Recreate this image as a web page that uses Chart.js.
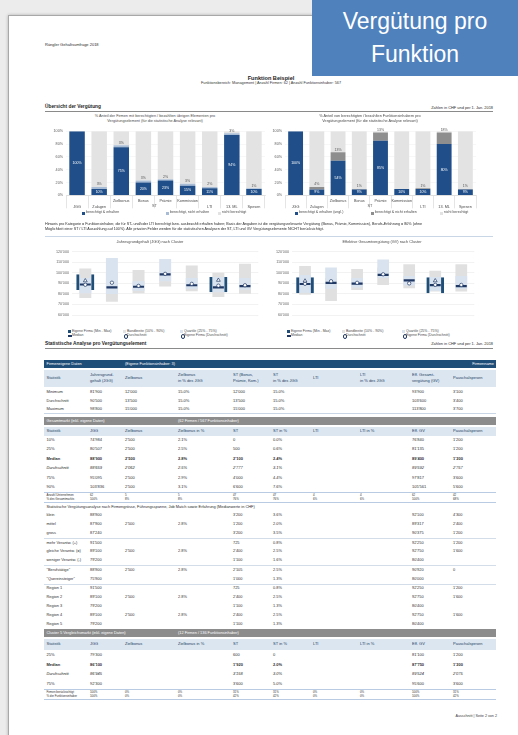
<!DOCTYPE html>
<html><head><meta charset="utf-8">
<script src="https://cdn.jsdelivr.net/npm/chart.js@4.4.1/dist/chart.umd.min.js"></script>
<style>
html,body{margin:0;padding:0;}
body{width:518px;height:735px;background:#ececec;position:relative;overflow:hidden;font-family:"Liberation Sans",Arial,sans-serif;}
#page{position:absolute;left:8px;top:15px;width:540px;height:760px;background:#fff;border:1px solid #a8a8a8;box-shadow:0 0 3px rgba(0,0,0,0.25);}
.t{position:absolute;white-space:nowrap;color:#333;line-height:1;}
.r{position:absolute;}
canvas{position:absolute;}
#banner{position:absolute;left:312px;top:0;width:206px;height:76px;background:#4f81bd;color:#fff;font-size:23px;text-align:center;line-height:33px;padding-top:5px;box-sizing:border-box;}
</style></head><body>
<div id="page"></div>
<canvas id="barL" width="230" height="92" style="left:40px;top:126px;width:230px;height:92px"></canvas>
<canvas id="barR" width="224" height="92" style="left:258px;top:126px;width:224px;height:92px"></canvas>
<canvas id="boxL" width="226" height="84" style="left:40px;top:244px;width:226px;height:84px"></canvas>
<canvas id="boxR" width="220" height="84" style="left:262px;top:244px;width:220px;height:84px"></canvas>
<div id="banner">Vergütung pro<br>Funktion</div>
<script>
// ---------- DATA ----------
const barCats = ["JGG","Zulagen","Zielbonus","Bonus","Prämie","Kommission","LTI","13. ML","Spesen"];
const stGroup = [2,5];
const paidL = [100, 10, 75, 20, 23, 15, 11, 94, 10];
const eligL = [0, 3, 3, 3, 2, 3, 2, 3, 1];
const paidR = [100, 9, 54, 9, 85, 10, 10, 80, 9];
const eligR = [0, 4, 13, 1, 13, 0, 1, 18, 1];
const pctTicks = [0,10,20,30,40,50,60,70,80,90,100];

const boxCats = ["Gesamtmarkt","Cluster 1","Cluster 2","Cluster 3","Cluster 4","Cluster 5","Cluster 6"];
const jggP10 = [76000, 72600, 80700, 87000, 82400, 77100, 80200];
const jggP90 = [104000, 100000, 102600, 100000, 107000, 100000, 108600];
const jggQ1  = [80500, 80000, 83000, 92000, 85000, 81600, 84000];
const jggQ3  = [95100, 114000, 92000, 113000, 95000, 96000, 95000];
const jggOwnMin = [83600, null, null, null, null, 81600, null];
const jggOwnMax = [98600, null, null, null, null, 96000, null];
const jggMed = [88900, 86100, 86800, 98600, 88200, 86100, 87400];
const jggAvg = [88659, 90600, 87600, 99000, 89500, 87800, 88200];
const jggOwnAvg = [92500, null, null, null, null, 93000, null];

const egvP10 = [79300, 73200, 83800, 88400, 85300, 82300, 82300];
const egvP90 = [106500, 95000, 103500, 105000, 108000, 102000, 108000];
const egvQ1  = [81100, 85000, 86000, 95000, 88000, 83000, 85000];
const egvQ3  = [97800, 105000, 95000, 112500, 97000, 96000, 97000];
const egvOwnMin = [80700, null, null, null, null, 80700, null];
const egvOwnMax = [95900, null, null, null, null, 95900, null];
const egvMed = [89400, 90500, 89800, 98000, 92900, 88400, 87400];
const egvAvg = [89600, 92000, 90500, 98600, 90000, 88600, 88500];
const egvOwnAvg = [92300, null, null, null, null, 92500, null];

const hdrOwn = [["Statistik"],["Jahresgrund-","gehalt (JGG)"],["Zielbonus"],["Zielbonus","in % des JGG"],["ST (Bonus,","Prämie, Kom.)"],["ST","in % des JGG"],["LTI"],["LTI","in % des JGG"],["Eff. Gesamt-","vergütung (GV)"],["Pauschalspesen"]];
const hdrMarket = ["Statistik","JGG","Zielbonus","Zielbonus in %","ST","ST in %","LTI","LTI in %","Eff. GV","Pauschalspesen"];
const ownRows = [
 ["Minimum","81'900","12'000","15.0%","12'000","15.0%","","","93'900","3'100"],
 ["Durchschnitt","90'500","13'500","15.0%","13'500","15.0%","","","103'600","3'400"],
 ["Maximum","98'800","15'000","15.0%","15'000","15.0%","","","113'800","3'700"]];
const marketRows = [
 ["10%","74'984","2'500","2.1%","0","0.0%","","","76'840","1'200"],
 ["25%","80'507","2'500","2.5%","500","0.6%","","","81'135","1'200"],
 ["Median","88'900","2'500","2.8%","2'100","2.4%","","","89'400","1'200"],
 ["Durchschnitt","88'659","2'062","2.5%","2'777","3.1%","","","89'592","2'757"],
 ["75%","95'095","2'500","2.9%","4'000","4.4%","","","97'817","3'600"],
 ["90%","103'836","2'500","3.1%","6'600","7.6%","","","105'561","5'600"]];
const marketCount = [
 ["Anzahl Unternehmen","62","5","5","47","47","4","4","62","42"],
 ["% des Gesamtmarkts","100%","8%","8%","76%","76%","6%","6%","100%","68%"]];
const splitRows = [
 ["klein","88'900","","","3'200","3.6%","","","92'100","4'300"],
 ["mittel","87'900","2'500","2.8%","1'200","2.0%","","","89'317","2'400"],
 ["gross","87'240","","","3'200","3.5%","","","90'375","1'200"],
 ["mehr Verantw. (+)","91'500","","","725","0.8%","","","92'250","1'200"],
 ["gleiche Verantw. (=)","89'100","2'500","2.8%","2'400","2.5%","","","92'750","1'600"],
 ["weniger Verantw. (-)","79'200","","","1'100","1.6%","","","80'400",""],
 ["\"Berufstätige\"","88'900","2'500","2.8%","2'105","2.5%","","","90'920","0"],
 ["\"Quereinsteiger\"","75'900","","","1'000","1.3%","","","80'000",""],
 ["Region 1","91'500","","","725","0.8%","","","92'250","1'200"],
 ["Region 2","89'100","2'500","2.8%","2'400","2.5%","","","92'750","1'600"],
 ["Region 3","79'200","","","1'100","1.3%","","","80'400",""],
 ["Region 4","89'100","2'500","2.8%","2'400","2.5%","","","92'750","1'600"],
 ["Region 5","79'200","","","1'100","1.3%","","","80'400",""]];
const clusterRows = [
 ["25%","79'300","","","600","0","","","81'100","1'200"],
 ["Median","86'100","","","1'920","2.0%","","","87'750","1'200"],
 ["Durchschnitt","86'945","","","3'158","3.0%","","","89'524","2'075"],
 ["75%","92'300","","","3'600","5.0%","","","95'600","3'600"]];
const clusterCount = [
 ["Firmen berücksichtigt","100%","0%","0%","31%","31%","0%","0%","100%","31%"],
 ["% der Funktionsinhaber","100%","0%","0%","42%","42%","0%","0%","100%","42%"]];

// ---------- HTML helpers ----------
function T(x,y,s,o={}){const d=document.createElement('div');d.className='t';d.textContent=s;const fs=o.fs||4;d.style.fontSize=fs+'px';d.style.top=(y-fs*0.55)+'px';
 if(o.align==='right'){d.style.right=(518-x)+'px';}else if(o.align==='center'){d.style.left=x+'px';d.style.transform='translateX(-50%)';}else{d.style.left=x+'px';}
 if(o.bold)d.style.fontWeight='bold'; if(o.italic)d.style.fontStyle='italic'; if(o.color)d.style.color=o.color; document.body.appendChild(d);return d;}
function R(x,y,w,h,c){const d=document.createElement('div');d.className='r';Object.assign(d.style,{left:x+'px',top:y+'px',width:w+'px',height:h+'px',background:c});document.body.appendChild(d);}
function sw(x,y,c,shape){
 if(shape==='line'){R(x,y-0.6,4,1.3,c);} else if(shape==='circle'){const d=document.createElement('div');d.className='r';Object.assign(d.style,{left:x+0.5+'px',top:y-1.6+'px',width:'2.2px',height:'2.2px',borderRadius:'50%',border:'0.6px solid #1f3864',background:c});document.body.appendChild(d);} else {R(x,y-1.5,3,3,c);} }

// ---------- page texts ----------
T(45,45,"Rängler Gehaltsumfrage 2018",{fs:4,color:'#2a2a2a'});
T(271,79.5,"Funktion Beispiel",{fs:5.6,bold:true,align:'center',color:'#222'});
T(271,84.5,"Funktionsbereich: Management | Anzahl Firmen: 62 | Anzahl Funktionsinhaber: 567",{fs:3.8,align:'center',color:'#333'});
T(45,107.7,"Übersicht der Vergütung",{fs:4.8,bold:true,color:'#1e1e1e'});
T(493,107.7,"Zahlen in CHF und per 1. Jan. 2018",{fs:3.9,align:'right',color:'#2a2a2a'});
R(45,111.2,448,1,'#8a8a8a');
T(155,117,"% Anteil der Firmen mit berechtigten / bezahlten übrigen Elementen pro",{fs:3.8,align:'center',color:'#4a4a4a'});
T(155,122.5,"Vergütungselement (für die statistische Analyse relevant)",{fs:3.8,align:'center',color:'#4a4a4a'});
T(370,117,"% Anteil von berechtigten / bezahlten Funktionsinhabern pro",{fs:3.8,align:'center',color:'#4a4a4a'});
T(370,122.5,"Vergütungselement (für die statistische Analyse relevant)",{fs:3.8,align:'center',color:'#4a4a4a'});
const legL = [["berechtigt & erhalten",'#1f4e89',82],["berechtigt, nicht erhalten",'#a9bcd6',166],["nicht berechtigt",'#e3e3e3',218]];
legL.forEach(l=>{sw(l[2],213,l[1]);T(l[2]+4,213,l[0],{fs:3.6,color:'#4a4a4a'});});
const legR = [["berechtigt & erhalten (ungl.)",'#1f4e89',295],["berechtigt & nicht erhalten",'#8e8e8e',371],["nicht berechtigt",'#e3e3e3',440]];
legR.forEach(l=>{sw(l[2],213,l[1]);T(l[2]+4,213,l[0],{fs:3.6,color:'#4a4a4a'});});
T(45,225.5,"Hinweis pro Kategorie = Funktionsinhaber, die für ST- und/oder LTI berechtigt bzw. ausbezahlt erhalten haben; Basis der Angaben ist die vergütungsrelevante Vergütung (Bonus, Prämie, Kommission), Berufs-Erfahrung = 80% (ohne",{fs:3.7,color:'#2a2a2a'});
T(45,230.5,"Möglichkeit einer ST / LTI Auszahlung auf 100%). Alle privaten Felder werden für die statistischen Analysen der ST, LTI und GV Vergütungselemente NICHT berücksichtigt.",{fs:3.7,color:'#2a2a2a'});
R(45,236,448,0.8,'#c9d6e6');
T(150,242.3,"Jahresgrundgehalt (JGG) nach Cluster",{fs:3.9,align:'center',color:'#4a4a4a'});
T(382,242.3,"Effektive Gesamtvergütung (GV) nach Cluster",{fs:3.9,align:'center',color:'#4a4a4a'});
function boxLegend(x1,x2,x3){
 sw(x1,331.5,'#1f4e79');T(x1+4,331.5,"Eigene Firma (Min - Max)",{fs:3.5,color:'#4a4a4a'});
 sw(x2,331.5,'#e3e3e3');T(x2+4,331.5,"Bandbreite (10% - 90%)",{fs:3.5,color:'#4a4a4a'});
 sw(x3,331.5,'#dbe5f1');T(x3+4,331.5,"Quartile (25% - 75%)",{fs:3.5,color:'#4a4a4a'});
 sw(x1-0.5,336,'#1f3864','line');T(x1+4,336,"Median",{fs:3.5,color:'#4a4a4a'});
 sw(x2,336,'#ffffff','circle');T(x2+4,336,"Durchschnitt",{fs:3.5,color:'#4a4a4a'});
 sw(x3,336,'#ffffff','circle');T(x3+4,336,"Eigene Firma (Durchschnitt)",{fs:3.5,color:'#4a4a4a'});
}
boxLegend(68,123,180); boxLegend(287,342,402);

// ---------- tables ----------
const colX = [46.5, 90, 125, 178, 233, 273, 313, 360, 412, 453];
const TL=43.5, TW=452.5;
T(45,344.5,"Statistische Analyse pro Vergütungselement",{fs:4.8,bold:true,color:'#1e1e1e'});
T(493,344.5,"Zahlen in CHF und per 1. Jan. 2018",{fs:3.9,align:'right',color:'#2a2a2a'});
R(45,348.3,448,1,'#8a8a8a');
R(TL,359.5,TW,8.5,'#1f4e79');
T(46.5,363.8,"Firmeneigene Daten",{fs:3.9,color:'#fff'});
T(125,363.8,"(Eigene Funktionsinhaber: 3)",{fs:3.9,color:'#fff'});
T(494,363.8,"Firmenname",{fs:3.9,color:'#fff',align:'right'});
R(TL,369.5,TW,17.5,'#dce6f1');
hdrOwn.forEach((h,j)=>{ if(h.length===1)T(colX[j],378.3,h[0],{fs:4,color:'#243f63'}); else {T(colX[j],375.3,h[0],{fs:4,color:'#243f63'});T(colX[j],381,h[1],{fs:4,color:'#243f63'});} });
function rows(arr,ys,fs,opt={}){arr.forEach((r,i)=>r.forEach((c,j)=>{ if(c!=='') T(colX[j],ys[i],c,{fs:fs,bold:opt.bold&&opt.bold.includes(r[0]),italic:opt.italic&&opt.italic.includes(r[0]),color:'#2e2e2e'}); }));}
rows(ownRows,[392,400.7,409],4);
R(TL,412.8,TW,0.7,'#c9d6e6');
R(TL,416.8,TW,8.3,'#8c8c8c');
T(46.5,421,"Gesamtmarkt (inkl. eigene Daten)",{fs:3.9,color:'#fff'});
T(178,421,"(62 Firmen / 567 Funktionsinhaber)",{fs:3.9,color:'#fff'});
R(TL,426.8,TW,9.5,'#dce6f1');
hdrMarket.forEach((h,j)=>T(colX[j],431.5,h,{fs:4,color:'#243f63'}));
rows(marketRows,[440.5,449.6,458.7,468.5,478,487.5],4,{bold:["Median"],italic:["Durchschnitt"]});
R(TL,492.3,TW,0.8,'#b8cbe2');
rows(marketCount,[495.6,499.6],2.9);
R(TL,502.3,TW,0.8,'#b8cbe2');
T(46.5,507,"Statistische Vergütungsanalyse nach Firmengrösse, Führungsspanne, Job Match sowie Erfahrung (Medianwerte in CHF)",{fs:3.9,color:'#2a2a2a'});
const splitY=[515.5,524.4,533.3,542.7,551.6,560.5,569.9,578.8,588.2,597.1,606,614.9,623.8];
rows(splitRows,splitY,3.9);
[538,565.2,583.5].forEach(y=>R(TL,y,TW,0.7,'#d3dde9'));
R(TL,628.5,TW,8.3,'#8c8c8c');
T(46.5,632.7,"Cluster 5 Vergleichsmarkt (inkl. eigene Daten)",{fs:3.9,color:'#fff'});
T(178,632.7,"(12 Firmen / 136 Funktionsinhaber)",{fs:3.9,color:'#fff'});
R(TL,638.5,TW,11.5,'#dce6f1');
hdrMarket.forEach((h,j)=>T(colX[j],644.3,h,{fs:4,color:'#243f63'}));
rows(clusterRows,[655.5,665,674.5,684],4,{bold:["Median"],italic:["Durchschnitt"]});
R(TL,688.7,TW,0.8,'#b8cbe2');
rows(clusterCount,[692.3,696.3],2.9);
R(TL,699.3,TW,0.8,'#b8cbe2');
T(497,717,"Ausschnitt | Seite 2 von 2",{fs:3.7,align:'right',color:'#3a3a3a'});

// ---------- charts ----------
const FONT = {family:'"Liberation Sans", Arial, sans-serif'};
const barLabels = {id:'barLabels', afterDatasetsDraw(chart){
 const ctx=chart.ctx; ctx.save(); ctx.font='3.5px "Liberation Sans"'; ctx.textAlign='center'; ctx.textBaseline='middle';
 const m0=chart.getDatasetMeta(0), m1=chart.getDatasetMeta(1);
 chart.data.datasets[0].data.forEach((v,i)=>{const b=m0.data[i]; ctx.fillStyle='#ffffff'; ctx.fillText(v+'%',b.x,(b.y+b.base)/2);
  const e=chart.data.datasets[1].data[i]; if(e>0){const b1=m1.data[i]; ctx.fillStyle='#555'; ctx.fillText(e+'%',b1.x,b1.y-2.6);} });
 ctx.restore(); }};
const groupLabel = {id:'groupLabel', afterDraw(chart){
 const x=chart.scales.x, ctx=chart.ctx; const a=x.getPixelForValue(stGroup[0]), b=x.getPixelForValue(stGroup[1]);
 ctx.save(); ctx.font='3.8px "Liberation Sans"'; ctx.fillStyle='#555'; ctx.textAlign='center'; ctx.textBaseline='middle';
 ctx.fillText('ST',(a+b)/2,x.top+10.6); ctx.restore(); }};

function makeBar(id,paid,elig,midColor,restColor,pad,yW){
 const rest = paid.map((p,i)=>100-p-elig[i]);
 const labels = barCats.map((c,i)=> (i>=stGroup[0]&&i<=stGroup[1]) ? [c,''] : ['',c]);
 new Chart(document.getElementById(id),{type:'bar',
  data:{labels:labels,datasets:[
   {data:paid,backgroundColor:'#1f4e89',barPercentage:0.7,categoryPercentage:1},
   {data:elig,backgroundColor:midColor,barPercentage:0.7,categoryPercentage:1},
   {data:rest,backgroundColor:restColor,barPercentage:0.7,categoryPercentage:1}]},
  options:{responsive:false,animation:false,devicePixelRatio:1,layout:{padding:pad},
   plugins:{legend:{display:false},tooltip:{enabled:false}},
   scales:{
    x:{stacked:true,afterFit(s){s.height=15;},grid:{display:true,drawOnChartArea:false,drawTicks:true,tickLength:13,offset:true,color:'#d4d4d4',lineWidth:0.6},
       border:{display:true,color:'#cfcfcf',width:0.6},
       ticks:{padding:-11,maxRotation:0,autoSkip:false,color:'#4a4a4a',font:{...FONT,size:3.8,lineHeight:1.75}}},
    y:{stacked:true,min:0,max:100,afterFit(s){s.width=yW;},afterBuildTicks(s){s.ticks=pctTicks.map(v=>({value:v}));},
       grid:{color:'#efefef',lineWidth:0.5,drawTicks:false},border:{display:false},
       ticks:{padding:3,color:'#5a5a5a',font:{...FONT,size:3.7},callback:v=>v+'%'}}}},
  plugins:[barLabels,groupLabel]});
}
makeBar('barL',paidL,eligL,'#a9bcd6','#e3e3e3',{left:4,right:5,top:4.7,bottom:7.7},22);
makeBar('barR',paidR,eligR,'#8e8e8e','#e3e3e3',{left:5,right:6,top:4.7,bottom:7.7},22);

const fmt = v => String(v).replace(/\B(?=(\d{3})+(?!\d))/g,"'");
function makeBox(id,p10,p90,q1,q3,omin,omax,med,avg,oavg,pad){
 const band=p10.map((v,i)=>[v,p90[i]]), quart=q1.map((v,i)=>[v,q3[i]]), own=omin.map((v,i)=>v==null?null:[v,omax[i]]);
 new Chart(document.getElementById(id),{type:'bar',
  data:{labels:boxCats,datasets:[
   {type:'bar',data:band,backgroundColor:'#e0e0e0',barPercentage:0.45,categoryPercentage:1,grouped:false,order:6},
   {type:'bar',data:quart,backgroundColor:'#d9e3f0',barPercentage:0.45,categoryPercentage:1,grouped:false,order:5},
   {type:'bar',data:own,backgroundColor:'rgba(0,0,0,0)',borderColor:'#1f4e79',borderWidth:{left:3,right:3,top:0,bottom:0},borderSkipped:false,barPercentage:0.68,categoryPercentage:1,grouped:false,order:4},
   {type:'line',data:med,showLine:false,pointStyle:'line',pointRadius:5.5,pointBorderWidth:2.2,pointBorderColor:'#1f3864',order:3},
   {type:'line',data:avg,showLine:false,pointStyle:'circle',pointRadius:1.7,pointBackgroundColor:'#fff',pointBorderColor:'#1f3864',pointBorderWidth:0.7,order:2},
   {type:'line',data:oavg,showLine:false,pointStyle:'triangle',pointRadius:2.2,pointBackgroundColor:'#fff',pointBorderColor:'#1f3864',pointBorderWidth:0.7,order:1}]},
  options:{responsive:false,animation:false,devicePixelRatio:1,layout:{padding:pad},
   plugins:{legend:{display:false},tooltip:{enabled:false}},
   scales:{
    x:{afterFit(s){s.height=9;},grid:{display:false},border:{display:false},ticks:{padding:2,maxRotation:0,autoSkip:false,color:'#4a4a4a',font:{...FONT,size:3.8}}},
    y:{min:60000,max:120000,afterFit(s){s.width=26;},ticks:{stepSize:10000,padding:3,color:'#666',font:{...FONT,size:3.7},callback:v=>fmt(v)},
       grid:{color:'#e9e9e9',lineWidth:0.6,drawTicks:false},border:{display:false}}}}});
}
makeBox('boxL',jggP10,jggP90,jggQ1,jggQ3,jggOwnMin,jggOwnMax,jggMed,jggAvg,jggOwnAvg,{left:6,right:5,top:5,bottom:4});
makeBox('boxR',egvP10,egvP90,egvQ1,egvQ3,egvOwnMin,egvOwnMax,egvMed,egvAvg,egvOwnAvg,{left:4,right:6,top:5,bottom:4});
</script>
</body></html>
